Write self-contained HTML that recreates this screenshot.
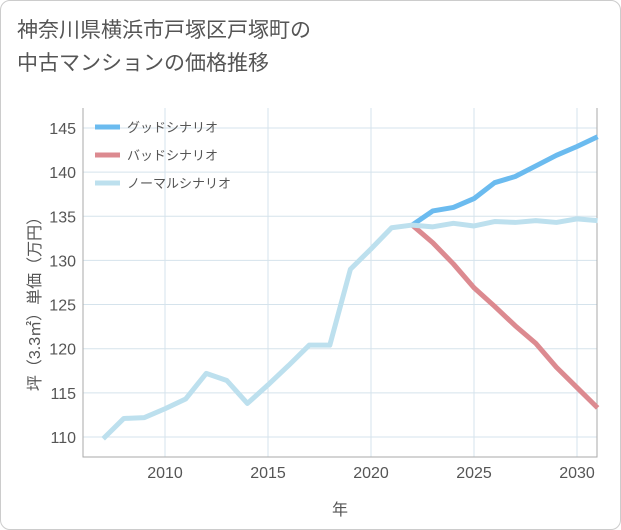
<!DOCTYPE html>
<html><head><meta charset="utf-8"><style>
body{margin:0;background:#fff;font-family:"Liberation Sans","Noto Sans CJK JP",sans-serif;}
#card{position:absolute;left:0;top:0;width:619px;height:528px;border:1px solid #ccc;border-radius:10px;background:#fff;}
#title{position:absolute;left:17px;top:14px;font-size:21px;line-height:33px;color:#555;}
</style></head><body>
<div id="card"></div>
<div id="title">神奈川県横浜市戸塚区戸塚町の<br>中古マンションの価格推移</div>
<svg id="chart" width="621" height="530" style="position:absolute;left:0;top:0"></svg>
<script>
const years=[2007,2008,2009,2010,2011,2012,2013,2014,2015,2016,2017,2018,2019,2020,2021,2022,2023,2024,2025,2026,2027,2028,2029,2030,2031];
const normal=[109.8,112.1,112.2,113.2,114.3,117.2,116.4,113.8,115.9,118.1,120.4,120.4,129.0,131.3,133.7,134.0,133.8,134.2,133.9,134.4,134.3,134.5,134.3,134.7,134.5];
const goodYears=[2022,2023,2024,2025,2026,2027,2028,2029,2030,2031];
const good=[134.0,135.6,136.0,137.0,138.8,139.5,140.7,141.9,142.9,144.0];
const bad=[134.0,132.0,129.6,126.9,124.8,122.6,120.6,117.9,115.6,113.3];
const xTicks=[2010,2015,2020,2025,2030];
const yTicks=[110,115,120,125,130,135,140,145];
const L=83,R=597,T=108,B=457;
const x=v=>165+(v-2010)*20.6;
const y=v=>437-(v-110)*8.83;
const svg=document.getElementById('chart');const NS='http://www.w3.org/2000/svg';
function mk(t,a,p){const e=document.createElementNS(NS,t);for(const k in a)e.setAttribute(k,a[k]);(p||svg).appendChild(e);return e;}
for(let yr=2007;yr<=2031;yr++){}
xTicks.forEach(t=>{const l=mk('line',{x1:x(t),x2:x(t),y1:T,y2:B,stroke:'#d5e3ec'});
const tx=mk('text',{x:x(t),y:478,'text-anchor':'middle','font-size':16,fill:'#555'});tx.textContent=t;});
yTicks.forEach(t=>{const l=mk('line',{x1:L,x2:R,y1:y(t),y2:y(t),stroke:'#d5e3ec'});
const tx=mk('text',{x:76,y:y(t)+6,'text-anchor':'end','font-size':16,fill:'#555'});tx.textContent=t;});
const ax=mk('path',{d:`M${L} ${T}V${B}H${R}V${T}`,fill:'none',stroke:'#aaa'});
function line(xs,vs,c,n){const p=mk('polyline',{points:xs.map((v,i)=>x(v)+','+y(vs[i])).join(' '),fill:'none',stroke:c,'stroke-width':5,'stroke-linejoin':'round'});}
line(goodYears,good,'#6bbbef','good-scenario-line');
line(goodYears,bad,'#dc8a90','bad-scenario-line');
line(years,normal,'#bde0ee','normal-scenario-line');
const leg=[['グッドシナリオ','#6bbbef'],['バッドシナリオ','#dc8a90'],['ノーマルシナリオ','#bde0ee']];
leg.forEach((e,i)=>{const yy=127+i*28;const l=mk('line',{x1:95,x2:120,y1:yy,y2:yy,stroke:e[1],'stroke-width':5});
const t=mk('text',{x:127,y:yy+5,'font-size':13,fill:'#555'});t.textContent=e[0];});
const xt=mk('text',{x:340,y:515,'text-anchor':'middle','font-size':16,fill:'#555'});xt.textContent='年';
const yt=mk('text',{x:0,y:0,'text-anchor':'middle','font-size':16,fill:'#555',transform:'translate(40,300) rotate(-90)'});yt.textContent='坪（3.3㎡）単価（万円）';
</script>
</body></html>
